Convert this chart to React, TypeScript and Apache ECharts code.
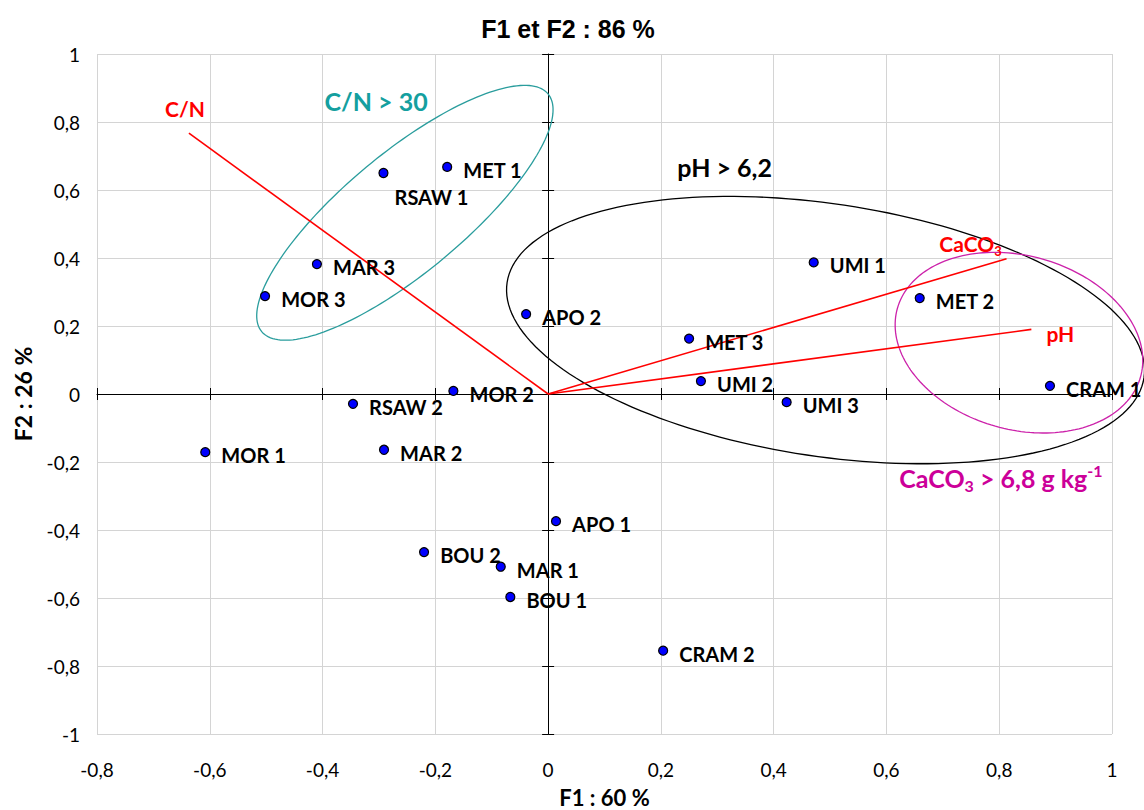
import React, { useEffect, useRef } from 'react';
import * as echarts from 'echarts';

// Site scores on the first two factorial axes
const sites = ['MET 1', 'RSAW 1', 'MAR 3', 'MOR 3', 'APO 2', 'MOR 2', 'RSAW 2', 'MAR 2', 'MOR 1', 'APO 1',
  'BOU 2', 'MAR 1', 'BOU 1', 'CRAM 2', 'UMI 1', 'MET 2', 'MET 3', 'UMI 2', 'UMI 3', 'CRAM 1'];
const siteF1 = [-0.179, -0.292, -0.410, -0.502, -0.039, -0.168, -0.346, -0.291, -0.608, 0.014,
  -0.220, -0.084, -0.067, 0.204, 0.471, 0.659, 0.250, 0.271, 0.423, 0.890];
const siteF2 = [0.668, 0.650, 0.382, 0.288, 0.235, 0.009, -0.029, -0.164, -0.171, -0.374,
  -0.465, -0.508, -0.597, -0.755, 0.387, 0.282, 0.163, 0.038, -0.024, 0.024];

// Variable loadings (drawn as vectors from the origin)
const variables = ['C/N', 'CaCO3', 'pH'];
const varF1 = [-0.637, 0.813, 0.857];
const varF2 = [0.767, 0.398, 0.190];

// Groupings outlined by ellipses
const groups = ['C/N > 30', 'pH > 6,2', 'CaCO3 > 6,8 g kg-1'];
const groupCenterF1 = [-0.254, 0.492, 0.835];
const groupCenterF2 = [0.533, 0.188, 0.151];
const groupSemiMajor = [0.330, 0.571, 0.224];
const groupSemiMinor = [0.106, 0.224, 0.154];
const groupTiltDeg = [39.7, -8.5, -15.8];
const groupLabelF1 = [-0.305, 0.313, 0.803];
const groupLabelF2 = [0.862, 0.668, -0.247];

const F1_MIN = -0.8;
const F1_MAX = 1;
const F2_MIN = -1;
const F2_MAX = 1;
const STEP = 0.2;

const LABEL_FONT = 'Lato, "Open Sans", sans-serif';
const groupColors = ['#149f9f', '#000000', '#cc0099'];
const groupStroke = ['#2a9d9d', '#000000', '#cc22aa'];
const vectorLabelOffset: [number, number][] = [[-4, -25], [-36, -15], [29, 4]];

const fmt = (v: number) => String(Math.round(v * 10) / 10).replace('.', ',');

const richBase = (size: number, color: string) => {
  const common = { fontWeight: 'bold', fontFamily: LABEL_FONT, fill: color, color };
  const small = Math.round(size * 0.62);
  return {
    t: { ...common, fontSize: size, lineHeight: size + 6 },
    sub: { ...common, fontSize: small, lineHeight: small, verticalAlign: 'bottom' },
    sup: { ...common, fontSize: small, lineHeight: small, verticalAlign: 'top' },
  };
};

const richText = (s: string) => {
  if (s.startsWith('CaCO3')) {
    const rest = s.slice(5);
    const m = rest.match(/^(.*kg)(-1)$/);
    if (m) return `{t|CaCO}{sub|3}{t|${m[1]}}{sup|${m[2]}}`;
    return `{t|CaCO}{sub|3}${rest ? `{t|${rest}}` : ''}`;
  }
  return `{t|${s}}`;
};

const xBase = { type: 'value', min: F1_MIN, max: F1_MAX, interval: STEP };
const yBase = { type: 'value', min: F2_MIN, max: F2_MAX, interval: STEP };
const hidden = { axisLabel: { show: false }, splitLine: { show: false } };
const tickStyle = { lineStyle: { color: '#000', width: 1 } };

const option: any = {
  animation: false,
  backgroundColor: '#ffffff',
  grid: { left: 97, right: 32, top: 54, bottom: 76, containLabel: false, outerBoundsMode: 'none' },
  graphic: [
    {
      type: 'text',
      x: 568,
      y: 29,
      style: {
        text: 'F1 et F2 : 86 %',
        font: 'bold 25px "Liberation Sans", Arial, sans-serif',
        fill: '#000',
        align: 'center',
        verticalAlign: 'middle',
      },
    },
  ],
  xAxis: [
    {
      ...xBase,
      position: 'bottom',
      name: 'F1 : 60 %',
      nameLocation: 'middle',
      nameGap: 52,
      nameTextStyle: { fontSize: 22, fontWeight: 'bold', fontFamily: LABEL_FONT, color: '#000' },
      axisLine: { show: false, onZero: false },
      axisTick: { show: false },
      axisLabel: { formatter: fmt, fontSize: 19, fontFamily: LABEL_FONT, color: '#000', margin: 26 },
      splitLine: { show: true, lineStyle: { color: '#d4d4d4', width: 1 } },
    },
    {
      ...xBase,
      position: 'bottom',
      axisLine: { show: true, onZero: true, onZeroAxisIndex: 0, lineStyle: { color: '#000', width: 1 } },
      axisTick: { show: true, inside: false, length: 6, ...tickStyle },
      ...hidden,
    },
    {
      ...xBase,
      position: 'bottom',
      axisLine: { show: false, onZero: true, onZeroAxisIndex: 0 },
      axisTick: { show: true, inside: true, length: 6, ...tickStyle },
      ...hidden,
    },
  ],
  yAxis: [
    {
      ...yBase,
      position: 'left',
      name: 'F2 : 26 %',
      nameLocation: 'middle',
      nameGap: 63,
      nameRotate: 90,
      nameTextStyle: { fontSize: 23, fontWeight: 'bold', fontFamily: LABEL_FONT, color: '#000' },
      axisLine: { show: false, onZero: false },
      axisTick: { show: false },
      axisLabel: { formatter: fmt, fontSize: 19, fontFamily: LABEL_FONT, color: '#000', margin: 17 },
      splitLine: { show: true, lineStyle: { color: '#d4d4d4', width: 1 } },
    },
    {
      ...yBase,
      position: 'left',
      axisLine: { show: true, onZero: true, onZeroAxisIndex: 0, lineStyle: { color: '#000', width: 1 } },
      axisTick: { show: true, inside: false, length: 6, ...tickStyle },
      ...hidden,
    },
    {
      ...yBase,
      position: 'left',
      axisLine: { show: false, onZero: true, onZeroAxisIndex: 0 },
      axisTick: { show: true, inside: true, length: 6, ...tickStyle },
      ...hidden,
    },
  ],
  series: [
    {
      // ellipses around groups of sites
      type: 'custom',
      xAxisIndex: 0,
      yAxisIndex: 0,
      clip: false,
      silent: true,
      z: 2,
      encode: { x: 0, y: 1 },
      data: groups.map((_, i) => [groupCenterF1[i], groupCenterF2[i]]),
      renderItem: (params: any, api: any) => {
        const i = params.dataIndex;
        const c = api.coord([groupCenterF1[i], groupCenterF2[i]]);
        const unit = api.size([1, 0])[0];
        const a = groupSemiMajor[i] * unit;
        const b = groupSemiMinor[i] * unit;
        const t = (groupTiltDeg[i] * Math.PI) / 180;
        const pts: number[][] = [];
        const n = 180;
        for (let k = 0; k < n; k++) {
          const p = (k / n) * Math.PI * 2;
          const ex = a * Math.cos(p);
          const ey = b * Math.sin(p);
          pts.push([c[0] + ex * Math.cos(t) - ey * Math.sin(t), c[1] - (ex * Math.sin(t) + ey * Math.cos(t))]);
        }
        const lp = api.coord([groupLabelF1[i], groupLabelF2[i]]);
        return {
          type: 'group',
          children: [
            { type: 'polygon', shape: { points: pts }, style: { fill: 'none', stroke: groupStroke[i], lineWidth: 1.3 } },
            {
              type: 'text',
              x: lp[0],
              y: lp[1],
              style: {
                text: richText(groups[i]),
                rich: richBase(25, groupColors[i]),
                fill: groupColors[i],
                align: 'center',
                verticalAlign: 'middle',
              },
            },
          ],
        };
      },
    },
    {
      // variable vectors
      type: 'custom',
      xAxisIndex: 0,
      yAxisIndex: 0,
      clip: false,
      silent: true,
      z: 3,
      encode: { x: 0, y: 1 },
      data: variables.map((_, i) => [varF1[i], varF2[i]]),
      renderItem: (params: any, api: any) => {
        const i = params.dataIndex;
        const o = api.coord([0, 0]);
        const e = api.coord([varF1[i], varF2[i]]);
        const off = vectorLabelOffset[i];
        return {
          type: 'group',
          children: [
            { type: 'line', shape: { x1: o[0], y1: o[1], x2: e[0], y2: e[1] }, style: { stroke: '#ff0000', lineWidth: 1.6 } },
            {
              type: 'text',
              x: e[0] + off[0],
              y: e[1] + off[1],
              style: {
                text: richText(variables[i]),
                rich: richBase(21, '#ff0000'),
                fill: '#ff0000',
                align: 'center',
                verticalAlign: 'middle',
              },
            },
          ],
        };
      },
    },
    {
      type: 'scatter',
      name: 'Sites',
      xAxisIndex: 0,
      yAxisIndex: 0,
      z: 5,
      symbol: 'circle',
      symbolSize: 9,
      itemStyle: { color: '#0000ff', borderColor: '#000', borderWidth: 1.2, opacity: 1 },
      label: {
        show: true,
        position: 'right',
        distance: 11,
        offset: [0, 3],
        formatter: '{b}',
        color: '#000',
        fontWeight: 'bold',
        fontSize: 20,
        fontFamily: LABEL_FONT,
      },
      data: sites.map((name, i) => ({
        name,
        value: [siteF1[i], siteF2[i]],
        ...(name === 'RSAW 1' ? { label: { offset: [-5, 24] } } : {}),
      })),
    },
  ],
};

export default function App() {
  const ref = useRef<HTMLDivElement>(null);
  useEffect(() => {
    document.body.style.margin = '0';
    if (!ref.current) return;
    const chart = echarts.init(ref.current, null, { renderer: 'svg' });
    chart.setOption(option);
    return () => chart.dispose();
  }, []);
  return <div ref={ref} style={{ width: 1144, height: 810, background: '#ffffff' }} />;
}
